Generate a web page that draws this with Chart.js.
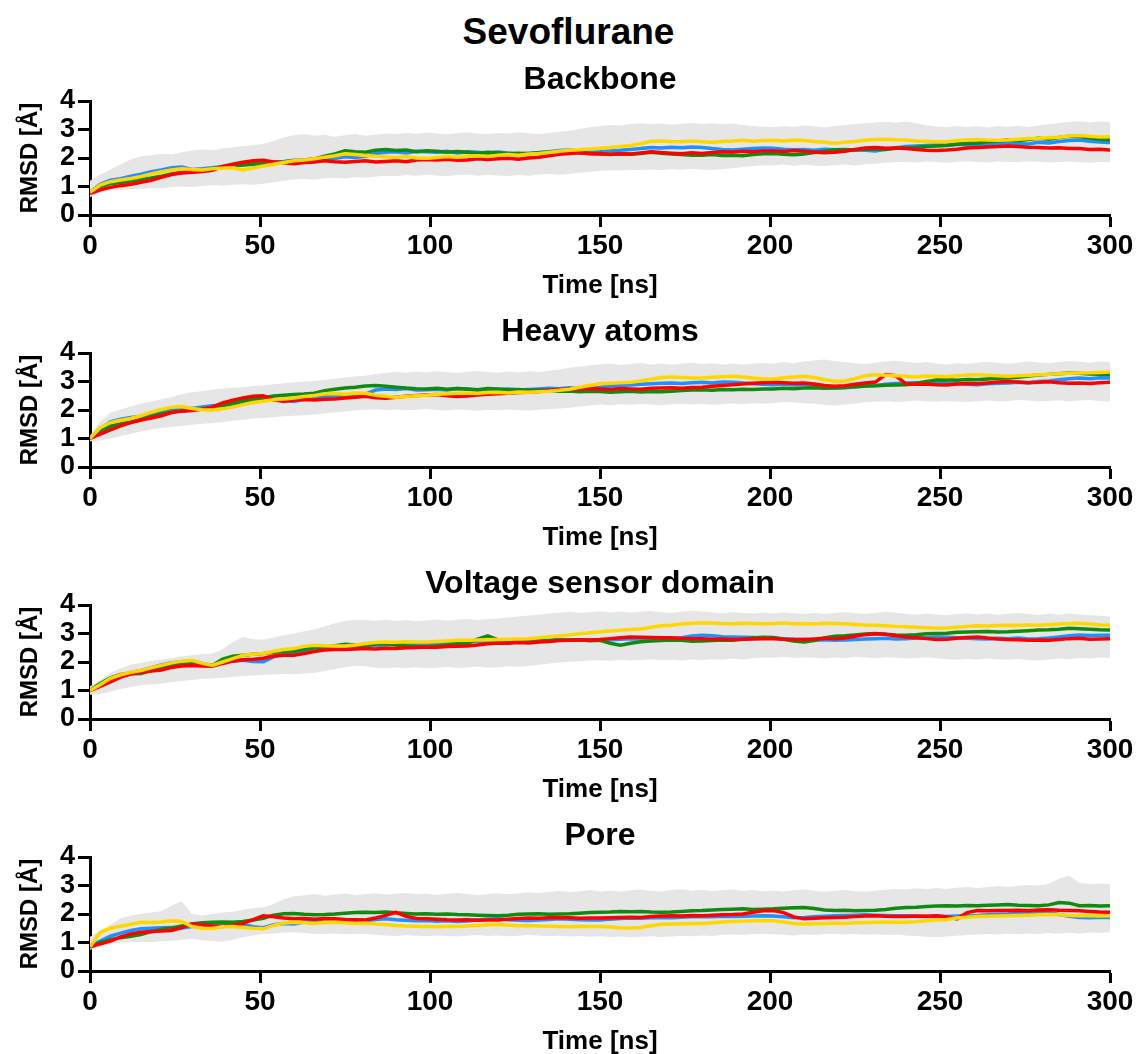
<!DOCTYPE html>
<html>
<head>
<meta charset="utf-8">
<script src="https://cdn.jsdelivr.net/npm/chart.js@4.4.1/dist/chart.umd.min.js"></script>
<style>
html,body{margin:0;padding:0;background:#fff;}
#wrap{position:relative;width:1137px;height:1054px;overflow:hidden;}
#main{position:absolute;left:0;top:10px;width:1137px;text-align:center;font:bold 37px "Liberation Sans",Arial,sans-serif;color:#000;line-height:44px;}
.sub{position:absolute;left:400px;width:400px;text-align:center;font:bold 32px "Liberation Sans",Arial,sans-serif;color:#000;line-height:38px;}
canvas{position:absolute;left:0;}
</style>
</head>
<body>
<div id="wrap">
<div id="main">Sevoflurane</div>
<canvas id="c0" width="1137" height="252" style="top:50px"></canvas>
<canvas id="c1" width="1137" height="252" style="top:302px"></canvas>
<canvas id="c2" width="1137" height="252" style="top:554px"></canvas>
<canvas id="c3" width="1137" height="252" style="top:806px"></canvas>
</div>
<script>
const panelTitles = ["Backbone", "Heavy atoms", "Voltage sensor domain", "Pore"];
const xTickValues = [0, 50, 100, 150, 200, 250, 300];
const yTickValues = [0, 1, 2, 3, 4];

const time = [0,3,6,9,12,15,18,21,24,27,30,33,36,39,42,45,48,51,54,57,60,63,66,69,72,75,78,81,84,87,90,93,96,99,102,105,108,111,114,117,120,123,126,129,132,135,138,141,144,147,150,153,156,159,162,165,168,171,174,177,180,183,186,189,192,195,198,201,204,207,210,213,216,219,222,225,228,231,234,237,240,243,246,249,252,255,258,261,264,267,270,273,276,279,282,285,288,291,294,297,300];

// ---- Backbone ----
const backboneBlue = [0.80,1.08,1.22,1.27,1.36,1.43,1.52,1.58,1.66,1.68,1.60,1.62,1.66,1.70,1.72,1.76,1.80,1.82,1.86,1.88,1.92,1.90,1.96,2.00,1.98,2.04,2.02,2.06,2.16,2.20,2.22,2.18,2.24,2.22,2.20,2.24,2.18,2.22,2.20,2.17,2.21,2.18,2.14,2.17,2.19,2.22,2.26,2.28,2.24,2.20,2.22,2.25,2.27,2.30,2.33,2.37,2.35,2.38,2.36,2.39,2.37,2.33,2.30,2.28,2.31,2.33,2.35,2.34,2.31,2.29,2.30,2.27,2.31,2.29,2.26,2.29,2.27,2.25,2.31,2.36,2.40,2.42,2.44,2.46,2.45,2.48,2.46,2.44,2.48,2.50,2.50,2.52,2.49,2.55,2.53,2.58,2.61,2.63,2.59,2.56,2.54];
const backboneGreen = [0.80,1.00,1.10,1.14,1.19,1.25,1.30,1.36,1.44,1.50,1.55,1.57,1.62,1.68,1.71,1.75,1.78,1.80,1.84,1.86,1.90,1.93,1.97,2.06,2.14,2.25,2.22,2.20,2.27,2.30,2.26,2.28,2.22,2.25,2.24,2.20,2.23,2.20,2.17,2.20,2.18,2.15,2.17,2.15,2.18,2.20,2.22,2.21,2.18,2.16,2.14,2.12,2.15,2.13,2.16,2.20,2.17,2.14,2.12,2.10,2.10,2.12,2.09,2.10,2.08,2.12,2.15,2.16,2.13,2.11,2.14,2.19,2.24,2.29,2.30,2.28,2.31,2.32,2.30,2.34,2.34,2.37,2.40,2.42,2.44,2.48,2.51,2.53,2.57,2.60,2.63,2.61,2.65,2.69,2.66,2.72,2.76,2.75,2.70,2.66,2.63];
const backboneRed = [0.75,0.88,0.97,1.03,1.08,1.15,1.22,1.32,1.42,1.47,1.50,1.53,1.57,1.70,1.78,1.85,1.90,1.92,1.86,1.83,1.80,1.84,1.86,1.90,1.87,1.85,1.88,1.90,1.86,1.88,1.90,1.87,1.93,1.95,1.93,1.96,1.92,1.93,1.97,1.95,1.97,1.99,1.96,2.00,2.03,2.08,2.13,2.16,2.18,2.15,2.16,2.13,2.15,2.14,2.18,2.22,2.19,2.17,2.15,2.18,2.16,2.19,2.22,2.21,2.24,2.22,2.25,2.25,2.23,2.26,2.24,2.21,2.18,2.20,2.24,2.30,2.35,2.37,2.34,2.35,2.33,2.30,2.27,2.26,2.28,2.31,2.35,2.37,2.39,2.40,2.42,2.40,2.38,2.37,2.35,2.36,2.33,2.33,2.30,2.31,2.28];
const backboneYellow = [0.80,1.05,1.17,1.23,1.28,1.35,1.44,1.52,1.58,1.62,1.60,1.58,1.62,1.64,1.66,1.58,1.65,1.72,1.78,1.84,1.90,1.93,1.97,2.03,2.08,2.15,2.12,2.09,2.06,2.04,2.02,2.05,2.00,1.99,2.02,2.05,2.03,2.06,2.08,2.05,2.10,2.12,2.10,2.14,2.16,2.19,2.24,2.27,2.29,2.32,2.34,2.37,2.40,2.44,2.50,2.59,2.60,2.58,2.57,2.60,2.57,2.55,2.58,2.60,2.62,2.59,2.61,2.62,2.60,2.63,2.61,2.58,2.55,2.52,2.55,2.58,2.62,2.65,2.66,2.64,2.63,2.60,2.59,2.57,2.58,2.61,2.64,2.65,2.63,2.62,2.63,2.66,2.68,2.69,2.71,2.73,2.77,2.79,2.76,2.74,2.75];
const backboneMin = [0.62,0.78,0.86,0.88,0.90,0.92,0.95,0.93,0.98,1.00,0.98,1.02,1.05,1.03,1.06,1.08,1.06,1.10,1.15,1.20,1.25,1.27,1.24,1.29,1.31,1.28,1.33,1.32,1.35,1.38,1.36,1.40,1.38,1.41,1.39,1.36,1.40,1.42,1.38,1.41,1.39,1.37,1.40,1.38,1.42,1.44,1.41,1.45,1.48,1.52,1.55,1.57,1.56,1.59,1.58,1.60,1.57,1.61,1.59,1.62,1.60,1.58,1.61,1.64,1.68,1.72,1.75,1.74,1.77,1.73,1.76,1.74,1.72,1.75,1.77,1.74,1.78,1.80,1.83,1.86,1.87,1.84,1.88,1.86,1.83,1.87,1.89,1.86,1.84,1.88,1.86,1.85,1.89,1.87,1.84,1.86,1.88,1.85,1.83,1.86,1.85];
const backboneMax = [1.20,1.42,1.60,1.78,1.95,2.06,2.10,2.15,2.12,2.20,2.26,2.30,2.27,2.33,2.38,2.42,2.45,2.50,2.60,2.72,2.80,2.84,2.78,2.82,2.75,2.80,2.84,2.78,2.82,2.86,2.84,2.88,2.85,2.89,2.86,2.83,2.87,2.90,2.86,2.84,2.88,2.86,2.90,2.87,2.84,2.88,2.92,2.96,3.02,3.08,3.12,3.16,3.14,3.19,3.22,3.18,3.21,3.17,3.20,3.23,3.19,3.22,3.18,3.21,3.16,3.12,3.10,3.08,3.12,3.09,3.14,3.11,3.07,3.12,3.16,3.19,3.22,3.25,3.27,3.24,3.28,3.22,3.15,3.10,3.08,3.12,3.09,3.11,3.07,3.12,3.10,3.13,3.09,3.14,3.18,3.23,3.27,3.29,3.25,3.28,3.26];

// ---- Heavy atoms ----
const heavyBlue = [1.00,1.35,1.58,1.68,1.74,1.78,1.88,1.96,2.05,2.08,2.05,2.11,2.15,2.17,2.24,2.34,2.37,2.35,2.37,2.33,2.30,2.38,2.43,2.47,2.49,2.47,2.51,2.56,2.70,2.74,2.72,2.75,2.70,2.71,2.73,2.70,2.75,2.73,2.70,2.72,2.71,2.74,2.70,2.72,2.74,2.76,2.75,2.78,2.76,2.79,2.80,2.84,2.86,2.88,2.90,2.92,2.94,2.95,2.93,2.96,2.97,2.95,2.98,2.97,2.95,2.92,2.90,2.89,2.91,2.88,2.89,2.85,2.80,2.77,2.78,2.81,2.84,2.86,2.90,2.93,2.95,2.96,2.94,2.97,2.95,2.92,2.90,2.89,2.92,2.94,2.95,2.97,2.96,3.00,3.02,3.06,3.10,3.12,3.10,3.13,3.12];
const heavyGreen = [1.00,1.26,1.43,1.51,1.58,1.66,1.77,1.86,1.93,1.97,2.00,2.04,2.09,2.15,2.22,2.30,2.38,2.43,2.49,2.52,2.54,2.56,2.59,2.68,2.73,2.77,2.80,2.84,2.86,2.83,2.80,2.77,2.75,2.74,2.76,2.73,2.75,2.74,2.71,2.75,2.74,2.71,2.72,2.69,2.70,2.68,2.66,2.67,2.64,2.66,2.65,2.62,2.64,2.66,2.63,2.65,2.64,2.66,2.68,2.70,2.71,2.69,2.72,2.71,2.73,2.72,2.74,2.74,2.76,2.75,2.77,2.78,2.76,2.77,2.79,2.82,2.84,2.85,2.87,2.88,2.89,2.94,3.00,3.05,3.06,3.04,3.07,3.06,3.09,3.11,3.12,3.15,3.19,3.23,3.25,3.27,3.30,3.29,3.26,3.25,3.24];
const heavyRed = [1.00,1.15,1.30,1.44,1.56,1.65,1.72,1.80,1.91,1.96,1.98,2.03,2.10,2.25,2.34,2.42,2.48,2.50,2.36,2.30,2.35,2.37,2.35,2.38,2.39,2.42,2.45,2.48,2.43,2.41,2.45,2.48,2.51,2.53,2.54,2.50,2.47,2.49,2.53,2.55,2.57,2.59,2.61,2.62,2.65,2.69,2.72,2.74,2.73,2.75,2.74,2.72,2.75,2.74,2.73,2.76,2.77,2.78,2.76,2.79,2.80,2.83,2.86,2.89,2.91,2.94,2.96,2.97,2.96,2.94,2.95,2.91,2.86,2.83,2.85,2.90,2.95,2.98,3.24,3.20,2.92,2.90,2.91,2.89,2.88,2.91,2.93,2.92,2.95,2.98,3.00,2.98,2.96,2.97,2.99,2.96,2.94,2.95,2.93,2.96,2.97];
const heavyYellow = [1.00,1.38,1.56,1.64,1.70,1.80,1.92,2.02,2.10,2.12,2.05,2.01,2.00,2.04,2.10,2.19,2.26,2.31,2.36,2.39,2.42,2.47,2.51,2.57,2.58,2.55,2.60,2.59,2.52,2.48,2.45,2.47,2.50,2.52,2.55,2.57,2.59,2.60,2.58,2.61,2.62,2.60,2.63,2.62,2.64,2.66,2.69,2.73,2.80,2.86,2.92,2.94,2.96,2.97,3.02,3.08,3.14,3.16,3.14,3.12,3.12,3.15,3.17,3.18,3.16,3.12,3.09,3.09,3.13,3.16,3.18,3.14,3.06,3.01,3.02,3.10,3.20,3.24,3.22,3.20,3.18,3.16,3.19,3.18,3.17,3.20,3.23,3.24,3.22,3.20,3.18,3.20,3.22,3.24,3.25,3.27,3.29,3.30,3.31,3.32,3.33];
const heavyMin = [0.90,0.93,1.00,1.08,1.17,1.25,1.32,1.37,1.40,1.44,1.48,1.52,1.54,1.58,1.62,1.66,1.70,1.72,1.75,1.78,1.80,1.82,1.84,1.88,1.92,1.95,1.99,2.01,2.03,2.00,2.02,1.99,2.01,2.04,2.00,1.98,2.02,2.00,1.97,2.01,1.99,2.02,2.00,1.98,2.01,2.03,2.05,2.08,2.12,2.16,2.19,2.17,2.20,2.18,2.21,2.19,2.17,2.20,2.22,2.19,2.21,2.18,2.20,2.23,2.21,2.24,2.22,2.25,2.28,2.26,2.24,2.22,2.18,2.16,2.19,2.23,2.27,2.29,2.31,2.28,2.30,2.33,2.31,2.29,2.32,2.30,2.28,2.31,2.33,2.30,2.32,2.35,2.33,2.30,2.32,2.34,2.31,2.33,2.35,2.32,2.30];
const heavyMax = [1.10,1.60,1.90,2.02,2.12,2.22,2.30,2.38,2.45,2.55,2.62,2.66,2.72,2.75,2.78,2.80,2.84,2.86,2.90,2.94,2.97,3.00,3.02,3.05,3.10,3.14,3.18,3.20,3.26,3.30,3.34,3.31,3.35,3.32,3.36,3.33,3.30,3.34,3.37,3.33,3.31,3.35,3.32,3.36,3.33,3.38,3.42,3.48,3.53,3.57,3.60,3.63,3.58,3.61,3.65,3.60,3.63,3.59,3.62,3.66,3.61,3.64,3.60,3.63,3.59,3.62,3.65,3.62,3.68,3.64,3.70,3.74,3.77,3.72,3.68,3.64,3.61,3.66,3.70,3.73,3.69,3.65,3.68,3.63,3.60,3.64,3.61,3.66,3.69,3.65,3.62,3.66,3.70,3.67,3.64,3.68,3.72,3.69,3.66,3.70,3.68];

// ---- Voltage sensor domain ----
const vsdBlue = [1.00,1.22,1.40,1.54,1.63,1.70,1.80,1.90,1.97,2.01,2.03,1.95,1.88,1.99,2.04,2.06,2.02,2.01,2.18,2.26,2.29,2.38,2.44,2.46,2.49,2.53,2.54,2.57,2.58,2.60,2.62,2.61,2.64,2.65,2.66,2.68,2.70,2.71,2.73,2.72,2.74,2.75,2.74,2.76,2.77,2.76,2.79,2.78,2.76,2.77,2.76,2.78,2.80,2.82,2.81,2.83,2.82,2.81,2.85,2.91,2.94,2.92,2.89,2.88,2.87,2.86,2.85,2.84,2.82,2.80,2.79,2.77,2.78,2.76,2.77,2.79,2.81,2.82,2.83,2.81,2.82,2.84,2.86,2.88,2.87,2.85,2.83,2.82,2.81,2.83,2.82,2.84,2.81,2.82,2.84,2.88,2.92,2.95,2.93,2.94,2.94];
const vsdGreen = [1.00,1.25,1.44,1.56,1.59,1.60,1.70,1.78,1.86,1.91,1.94,1.90,1.88,2.10,2.20,2.24,2.27,2.30,2.34,2.36,2.38,2.45,2.51,2.53,2.57,2.62,2.60,2.59,2.63,2.65,2.60,2.56,2.54,2.53,2.56,2.60,2.64,2.66,2.80,2.92,2.78,2.76,2.75,2.77,2.76,2.74,2.77,2.76,2.78,2.75,2.76,2.66,2.59,2.66,2.71,2.74,2.75,2.77,2.76,2.73,2.74,2.75,2.77,2.76,2.80,2.84,2.87,2.86,2.80,2.74,2.70,2.75,2.84,2.90,2.92,2.95,2.98,3.00,2.97,2.95,2.94,2.96,2.99,3.00,3.01,3.04,3.05,3.06,3.07,3.05,3.06,3.08,3.10,3.12,3.13,3.15,3.18,3.17,3.15,3.13,3.12];
const vsdRed = [1.00,1.14,1.30,1.47,1.58,1.65,1.68,1.72,1.81,1.86,1.88,1.86,1.85,1.95,2.03,2.08,2.10,2.13,2.21,2.24,2.24,2.30,2.37,2.42,2.44,2.44,2.46,2.47,2.46,2.48,2.47,2.50,2.51,2.53,2.52,2.54,2.55,2.56,2.60,2.64,2.67,2.66,2.68,2.67,2.70,2.72,2.75,2.76,2.78,2.77,2.79,2.82,2.85,2.88,2.87,2.86,2.85,2.85,2.83,2.82,2.82,2.80,2.81,2.79,2.80,2.81,2.82,2.82,2.80,2.79,2.79,2.81,2.83,2.82,2.84,2.90,2.96,2.99,2.97,2.92,2.88,2.85,2.82,2.79,2.80,2.83,2.86,2.88,2.84,2.81,2.79,2.78,2.76,2.77,2.76,2.79,2.82,2.83,2.80,2.81,2.82];
const vsdYellow = [1.00,1.20,1.43,1.55,1.64,1.70,1.80,1.88,1.97,2.03,2.06,1.95,1.88,2.00,2.12,2.24,2.27,2.30,2.38,2.44,2.47,2.55,2.59,2.57,2.56,2.56,2.60,2.65,2.68,2.70,2.69,2.71,2.70,2.70,2.72,2.74,2.76,2.76,2.77,2.78,2.79,2.80,2.81,2.82,2.85,2.89,2.92,2.95,2.99,3.03,3.06,3.09,3.11,3.14,3.16,3.22,3.27,3.29,3.33,3.36,3.38,3.37,3.35,3.34,3.36,3.35,3.34,3.35,3.37,3.34,3.35,3.33,3.36,3.35,3.34,3.32,3.30,3.29,3.27,3.25,3.24,3.22,3.20,3.18,3.19,3.22,3.25,3.27,3.26,3.28,3.29,3.28,3.30,3.29,3.31,3.33,3.35,3.36,3.33,3.30,3.29];
const vsdMin = [0.85,0.88,0.96,1.05,1.12,1.18,1.22,1.25,1.29,1.33,1.37,1.40,1.42,1.45,1.48,1.51,1.53,1.55,1.56,1.58,1.57,1.60,1.62,1.68,1.75,1.82,1.87,1.85,1.80,1.78,1.81,1.79,1.82,1.78,1.80,1.83,1.79,1.81,1.84,1.80,1.82,1.85,1.83,1.86,1.90,1.94,1.98,2.01,2.03,2.05,2.06,2.04,2.08,2.05,2.07,2.10,2.06,2.08,2.05,2.09,2.07,2.10,2.08,2.12,2.09,2.13,2.16,2.15,2.18,2.14,2.17,2.15,2.12,2.16,2.14,2.18,2.16,2.13,2.17,2.15,2.12,2.14,2.17,2.13,2.10,2.08,2.11,2.09,2.12,2.10,2.08,2.11,2.07,2.05,2.09,2.12,2.10,2.14,2.12,2.16,2.15];
const vsdMax = [1.15,1.35,1.62,1.78,1.90,1.97,2.04,2.08,2.14,2.20,2.24,2.28,2.30,2.45,2.70,2.88,2.80,2.78,2.86,2.94,3.00,3.08,3.14,3.25,3.36,3.44,3.48,3.47,3.45,3.48,3.44,3.47,3.43,3.46,3.49,3.45,3.48,3.51,3.47,3.50,3.53,3.56,3.60,3.63,3.66,3.70,3.73,3.76,3.72,3.75,3.78,3.74,3.77,3.73,3.76,3.79,3.75,3.72,3.76,3.80,3.77,3.74,3.71,3.75,3.72,3.70,3.73,3.70,3.74,3.71,3.68,3.72,3.69,3.72,3.75,3.71,3.68,3.72,3.76,3.73,3.69,3.66,3.70,3.67,3.64,3.68,3.71,3.67,3.70,3.66,3.69,3.72,3.68,3.65,3.69,3.66,3.70,3.67,3.64,3.62,3.60];

// ---- Pore ----
const poreBlue = [0.85,1.05,1.22,1.33,1.42,1.48,1.50,1.52,1.53,1.51,1.56,1.62,1.65,1.66,1.64,1.63,1.55,1.52,1.62,1.67,1.65,1.72,1.76,1.71,1.73,1.75,1.77,1.76,1.81,1.83,1.80,1.78,1.76,1.77,1.75,1.76,1.74,1.75,1.79,1.82,1.83,1.80,1.78,1.77,1.79,1.81,1.83,1.82,1.80,1.79,1.79,1.82,1.84,1.86,1.85,1.87,1.88,1.87,1.89,1.90,1.91,1.90,1.92,1.91,1.92,1.93,1.94,1.93,1.90,1.87,1.88,1.90,1.92,1.94,1.95,1.96,1.97,1.96,1.95,1.94,1.94,1.92,1.91,1.90,1.91,1.93,1.94,1.95,1.97,1.99,2.00,2.02,2.04,2.06,2.04,1.98,1.92,1.88,1.87,1.89,1.88];
const poreGreen = [0.85,1.00,1.10,1.17,1.22,1.28,1.38,1.46,1.51,1.58,1.65,1.69,1.71,1.72,1.71,1.74,1.79,1.85,1.96,2.01,2.02,1.99,1.97,1.98,2.00,2.03,2.05,2.06,2.05,2.07,2.04,2.02,2.00,2.01,1.99,2.00,1.98,1.97,1.96,1.95,1.94,1.96,1.99,2.00,2.01,1.99,2.00,2.01,2.03,2.05,2.06,2.07,2.09,2.08,2.09,2.07,2.06,2.07,2.09,2.11,2.12,2.14,2.16,2.17,2.18,2.16,2.17,2.18,2.20,2.22,2.23,2.19,2.14,2.12,2.13,2.11,2.12,2.13,2.16,2.20,2.23,2.24,2.26,2.28,2.29,2.28,2.30,2.29,2.31,2.32,2.33,2.31,2.30,2.29,2.32,2.40,2.38,2.29,2.30,2.28,2.29];
const poreRed = [0.85,0.95,1.05,1.20,1.30,1.36,1.39,1.40,1.42,1.52,1.65,1.62,1.58,1.56,1.60,1.67,1.80,1.94,1.90,1.86,1.83,1.84,1.82,1.84,1.83,1.81,1.80,1.79,1.86,1.95,2.06,1.92,1.84,1.83,1.82,1.80,1.79,1.80,1.78,1.79,1.79,1.82,1.84,1.86,1.85,1.87,1.88,1.87,1.85,1.86,1.86,1.87,1.88,1.89,1.88,1.91,1.93,1.94,1.93,1.95,1.94,1.96,1.97,1.98,2.00,2.06,2.11,2.12,2.05,1.90,1.83,1.85,1.87,1.88,1.89,1.91,1.93,1.94,1.92,1.91,1.91,1.93,1.92,1.94,1.90,1.83,2.05,2.12,2.11,2.12,2.12,2.13,2.11,2.14,2.15,2.13,2.12,2.11,2.09,2.07,2.06];
const poreYellow = [0.85,1.35,1.50,1.57,1.64,1.71,1.70,1.72,1.76,1.74,1.56,1.50,1.49,1.55,1.56,1.53,1.50,1.48,1.60,1.68,1.71,1.69,1.67,1.70,1.71,1.69,1.67,1.68,1.65,1.63,1.60,1.58,1.57,1.56,1.55,1.57,1.56,1.58,1.60,1.62,1.63,1.61,1.59,1.60,1.58,1.57,1.56,1.55,1.57,1.56,1.56,1.54,1.52,1.51,1.53,1.59,1.64,1.65,1.66,1.67,1.67,1.69,1.72,1.74,1.75,1.76,1.77,1.76,1.72,1.67,1.65,1.66,1.67,1.68,1.67,1.69,1.70,1.71,1.72,1.71,1.71,1.73,1.76,1.79,1.81,1.86,1.89,1.91,1.92,1.93,1.94,1.95,1.96,1.97,1.98,1.97,1.95,1.94,1.95,1.93,1.94];
const poreMin = [0.75,0.85,0.95,1.00,1.02,1.03,1.01,1.04,1.06,1.09,1.13,1.08,1.05,1.03,1.10,1.18,1.25,1.30,1.32,1.35,1.36,1.33,1.31,1.30,1.32,1.29,1.31,1.30,1.27,1.25,1.23,1.26,1.24,1.22,1.25,1.23,1.21,1.24,1.26,1.23,1.25,1.22,1.24,1.27,1.25,1.22,1.24,1.21,1.23,1.20,1.22,1.19,1.21,1.18,1.20,1.22,1.19,1.21,1.24,1.22,1.25,1.23,1.26,1.28,1.26,1.29,1.31,1.29,1.27,1.25,1.28,1.26,1.29,1.31,1.28,1.30,1.27,1.29,1.26,1.28,1.25,1.23,1.20,1.19,1.21,1.24,1.26,1.28,1.30,1.28,1.31,1.29,1.32,1.30,1.33,1.31,1.34,1.32,1.35,1.33,1.36];
const poreMax = [1.20,1.40,1.62,1.85,1.94,2.00,2.05,2.10,2.30,2.45,2.00,1.95,2.00,2.05,2.08,2.15,2.20,2.24,2.35,2.52,2.62,2.66,2.70,2.64,2.68,2.72,2.66,2.70,2.73,2.68,2.71,2.74,2.69,2.72,2.67,2.71,2.74,2.70,2.66,2.70,2.73,2.69,2.72,2.76,2.73,2.78,2.81,2.77,2.80,2.84,2.79,2.82,2.78,2.83,2.86,2.81,2.79,2.84,2.87,2.82,2.85,2.80,2.83,2.86,2.81,2.84,2.80,2.82,2.79,2.83,2.86,2.82,2.78,2.81,2.84,2.80,2.78,2.82,2.85,2.88,2.86,2.90,2.87,2.91,2.88,2.92,2.95,2.91,2.94,2.98,2.95,2.99,3.02,3.00,3.06,3.25,3.34,3.10,3.05,3.07,3.05];

const panels = [
  {blue: backboneBlue, green: backboneGreen, red: backboneRed, yellow: backboneYellow, min: backboneMin, max: backboneMax},
  {blue: heavyBlue, green: heavyGreen, red: heavyRed, yellow: heavyYellow, min: heavyMin, max: heavyMax},
  {blue: vsdBlue, green: vsdGreen, red: vsdRed, yellow: vsdYellow, min: vsdMin, max: vsdMax},
  {blue: poreBlue, green: poreGreen, red: poreRed, yellow: poreYellow, min: poreMin, max: poreMax}
];

const FONT = '"Liberation Sans", Arial, Helvetica, sans-serif';
function pts(arr){ return arr.map((v,i)=>({x: time[i], y: v})); }
function line(label, arr, color, order){
  return {label, data: pts(arr), borderColor: color, backgroundColor: color, borderWidth: 3.5,
    pointRadius: 0, tension: 0, fill: false, order};
}

const wrap = document.getElementById('wrap');
panels.forEach((p, idx) => {
  const sub = document.createElement('div');
  sub.className = 'sub';
  sub.style.top = (78 + 252 * idx - 19) + 'px';
  sub.textContent = panelTitles[idx];
  wrap.appendChild(sub);

  const ctx = document.getElementById('c' + idx);
  new Chart(ctx, {
    type: 'line',
    data: {
      datasets: [
        line('run 4', p.yellow, '#ffd700', 0),
        line('run 3', p.red, '#ff0000', 1),
        line('run 2', p.green, '#118a11', 2),
        line('run 1', p.blue, '#1e90ff', 3),
        {label: 'min', data: pts(p.min), borderColor: 'rgba(0,0,0,0)', borderWidth: 0, pointRadius: 0, fill: false, order: 5},
        {label: 'max', data: pts(p.max), borderColor: 'rgba(0,0,0,0)', borderWidth: 0, pointRadius: 0,
          backgroundColor: '#e6e6e6', fill: 4, order: 4}
      ]
    },
    options: {
      responsive: false,
      animation: false,
      devicePixelRatio: 1,
      layout: {padding: {top: 51, left: 0, right: 27, bottom: 0}},
      plugins: {
        legend: {display: false},
        tooltip: {enabled: false},
        title: {display: false}
      },
      scales: {
        x: {
          type: 'linear', min: 0, max: 300,
          afterBuildTicks: s => { s.ticks = xTickValues.map(v => ({value: v})); },
          afterFit: s => { s.height = 87; },
          border: {display: true, color: '#000', width: 3},
          grid: {display: true, drawOnChartArea: false, drawTicks: true, tickLength: 12, tickWidth: 3, tickColor: '#000'},
          ticks: {color: '#000', padding: 2, maxRotation: 0, autoSkip: false,
            font: {family: FONT, size: 28, weight: 'bold', lineHeight: 1.2}},
          title: {display: true, text: 'Time [ns]', color: '#000',
            font: {family: FONT, size: 26, weight: 'bold', lineHeight: 1.2}, padding: {top: 0, bottom: 1}}
        },
        y: {
          type: 'linear', min: 0, max: 4,
          afterBuildTicks: s => { s.ticks = yTickValues.map(v => ({value: v})); },
          afterFit: s => { s.width = 90; },
          border: {display: true, color: '#000', width: 3},
          grid: {display: true, drawOnChartArea: false, drawTicks: true, tickLength: 12, tickWidth: 3, tickColor: '#000'},
          ticks: {color: '#000', padding: 3, autoSkip: false,
            font: {family: FONT, size: 27, weight: 'bold', lineHeight: 1.2}},
          title: {display: true, text: 'RMSD [Å]', color: '#000',
            font: {family: FONT, size: 24, weight: 'bold', lineHeight: 1.2}, padding: {top: 16, bottom: 0}}
        }
      }
    }
  });
});
</script>
</body>
</html>
